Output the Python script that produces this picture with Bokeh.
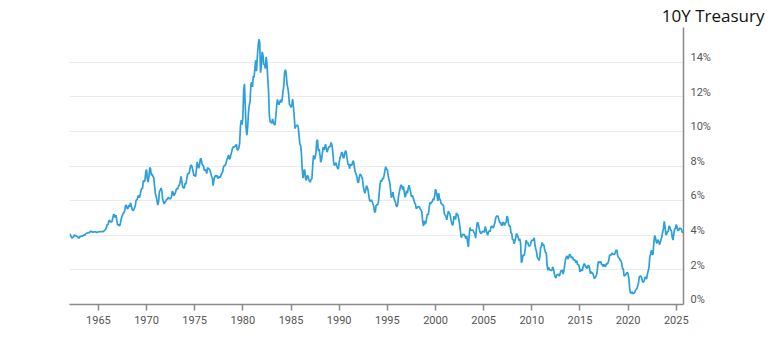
from bokeh.plotting import figure
from bokeh.models import (FixedTicker, PrintfTickFormatter, Range1d, ColumnDataSource,
                          LinearAxis, Grid, Title)
from bokeh.embed import file_html
from bokeh.resources import INLINE

# Monthly 10-year Treasury yield (%), starting January 1962
start_year = 1962
yields_1960s = [
    4.08, 4.04, 3.93, 3.84, 3.87, 3.91, 4.01, 3.98, 3.98, 3.93, 3.92, 3.86,
    3.83, 3.92, 3.93, 3.97, 3.93, 3.99, 4.02, 4.00, 4.08, 4.11, 4.12, 4.13,
    4.17, 4.15, 4.22, 4.23, 4.20, 4.17, 4.19, 4.19, 4.20, 4.19, 4.15, 4.18,
    4.19, 4.21, 4.21, 4.20, 4.21, 4.21, 4.20, 4.25, 4.29, 4.35, 4.45, 4.62,
    4.61, 4.83, 4.87, 4.75, 4.78, 4.81, 5.02, 5.22, 5.18, 5.01, 5.16, 4.84,
    4.58, 4.63, 4.54, 4.59, 4.85, 5.02, 5.16, 5.28, 5.30, 5.48, 5.75, 5.70,
    5.53, 5.56, 5.74, 5.64, 5.87, 5.72, 5.50, 5.42, 5.46, 5.58, 5.70, 6.03,
    6.04, 6.19, 6.30, 6.17, 6.32, 6.57, 6.72, 6.69, 7.16, 7.10, 7.14, 7.65,
]
yields_1970s = [
    7.79, 7.24, 7.07, 7.39, 7.91, 7.84, 7.46, 7.53, 7.39, 7.33, 6.84, 6.39,
    6.24, 6.00, 5.74, 5.93, 6.53, 6.59, 6.73, 6.58, 6.14, 5.93, 5.81, 5.93,
    5.95, 6.08, 6.07, 6.19, 6.13, 6.11, 6.11, 6.21, 6.55, 6.48, 6.28, 6.36,
    6.46, 6.64, 6.71, 6.67, 6.85, 6.90, 7.13, 7.40, 7.09, 6.79, 6.73, 6.74,
    6.99, 6.96, 7.21, 7.51, 7.58, 7.54, 7.81, 8.04, 8.04, 7.90, 7.68, 7.43,
    7.50, 7.39, 7.73, 8.23, 8.06, 7.86, 8.06, 8.40, 8.43, 8.14, 8.05, 8.00,
    7.74, 7.79, 7.73, 7.56, 7.90, 7.86, 7.83, 7.77, 7.59, 7.41, 7.29, 6.87,
    7.21, 7.39, 7.46, 7.37, 7.46, 7.28, 7.33, 7.40, 7.34, 7.52, 7.58, 7.69,
    7.96, 8.03, 8.04, 8.15, 8.35, 8.46, 8.64, 8.41, 8.42, 8.64, 8.81, 9.01,
    9.10, 9.10, 9.12, 9.18, 9.25, 8.91, 8.95, 9.03, 9.33, 10.30, 10.65, 10.39,
]
yields_1980s = [
    10.80, 12.41, 12.75, 11.47, 10.18, 9.78, 10.25, 11.10, 11.51, 11.75, 12.68, 12.84,
    12.57, 13.19, 13.12, 13.68, 14.10, 13.47, 14.28, 14.94, 15.32, 15.15, 13.39, 13.72,
    14.59, 14.43, 13.86, 13.87, 13.62, 14.30, 13.95, 13.06, 12.34, 10.91, 10.55, 10.54,
    10.46, 10.72, 10.51, 10.40, 10.38, 10.85, 11.38, 11.85, 11.65, 11.54, 11.69, 11.83,
    11.67, 11.84, 12.32, 12.63, 13.41, 13.56, 13.36, 12.72, 12.52, 12.16, 11.57, 11.50,
    11.38, 11.51, 11.86, 11.43, 10.85, 10.16, 10.31, 10.33, 10.37, 10.24, 9.78, 9.26,
    9.19, 8.70, 7.78, 7.30, 7.71, 7.80, 7.30, 7.17, 7.45, 7.43, 7.25, 7.11,
    7.08, 7.25, 7.25, 8.02, 8.61, 8.40, 8.45, 8.76, 9.42, 9.52, 8.86, 8.99,
    8.67, 8.21, 8.37, 8.72, 9.09, 8.92, 9.06, 9.26, 8.98, 8.80, 8.96, 9.11,
    9.09, 9.17, 9.36, 9.18, 8.86, 8.28, 8.02, 8.11, 8.19, 8.01, 7.87, 7.84,
]
yields_1990s = [
    8.21, 8.47, 8.59, 8.79, 8.76, 8.48, 8.47, 8.75, 8.89, 8.72, 8.39, 8.08,
    8.09, 7.85, 8.11, 8.04, 8.07, 8.28, 8.27, 7.90, 7.65, 7.53, 7.42, 7.09,
    7.03, 7.34, 7.54, 7.48, 7.39, 7.26, 6.84, 6.59, 6.42, 6.59, 6.87, 6.77,
    6.60, 6.26, 5.98, 5.97, 6.04, 5.96, 5.81, 5.68, 5.36, 5.33, 5.72, 5.77,
    5.75, 5.97, 6.48, 6.97, 7.18, 7.10, 7.30, 7.24, 7.46, 7.74, 7.96, 7.81,
    7.78, 7.47, 7.20, 7.06, 6.63, 6.17, 6.28, 6.49, 6.20, 6.04, 5.93, 5.71,
    5.65, 5.81, 6.27, 6.51, 6.74, 6.91, 6.87, 6.64, 6.83, 6.53, 6.20, 6.30,
    6.58, 6.42, 6.69, 6.89, 6.71, 6.49, 6.22, 6.30, 6.21, 6.03, 5.88, 5.81,
    5.54, 5.57, 5.65, 5.64, 5.65, 5.50, 5.46, 5.34, 4.81, 4.53, 4.83, 4.65,
    4.72, 5.00, 5.23, 5.18, 5.54, 5.90, 5.79, 5.94, 5.92, 6.11, 6.03, 6.28,
]
yields_2000s = [
    6.66, 6.52, 6.26, 5.99, 6.44, 6.10, 6.05, 5.83, 5.80, 5.74, 5.72, 5.24,
    5.16, 5.10, 4.89, 5.14, 5.39, 5.28, 5.24, 4.97, 4.73, 4.57, 4.65, 5.09,
    5.04, 4.91, 5.28, 5.21, 5.16, 4.93, 4.65, 4.26, 3.87, 3.94, 4.05, 4.03,
    4.05, 3.90, 3.81, 3.96, 3.57, 3.33, 3.98, 4.45, 4.27, 4.29, 4.30, 4.27,
    4.15, 4.08, 3.83, 4.35, 4.72, 4.73, 4.50, 4.28, 4.13, 4.10, 4.19, 4.23,
    4.22, 4.17, 4.50, 4.34, 4.14, 4.00, 4.18, 4.26, 4.20, 4.46, 4.54, 4.47,
    4.42, 4.57, 4.72, 4.99, 5.11, 5.11, 5.09, 4.88, 4.72, 4.73, 4.60, 4.56,
    4.76, 4.72, 4.56, 4.69, 4.75, 5.10, 5.00, 4.67, 4.52, 4.53, 4.15, 4.10,
    3.74, 3.74, 3.51, 3.68, 3.88, 4.10, 4.01, 3.89, 3.69, 3.81, 3.53, 2.42,
    2.52, 2.87, 2.82, 2.93, 3.29, 3.72, 3.56, 3.59, 3.40, 3.39, 3.40, 3.59,
]
yields_2010s = [
    3.73, 3.69, 3.73, 3.85, 3.42, 3.20, 3.01, 2.70, 2.65, 2.54, 2.76, 3.29,
    3.39, 3.58, 3.41, 3.46, 3.17, 3.00, 3.00, 2.30, 1.98, 2.15, 2.01, 1.98,
    1.97, 1.97, 2.17, 2.05, 1.80, 1.62, 1.53, 1.68, 1.72, 1.75, 1.65, 1.72,
    1.91, 1.98, 1.96, 1.76, 1.93, 2.30, 2.58, 2.74, 2.81, 2.62, 2.72, 2.90,
    2.86, 2.71, 2.72, 2.71, 2.56, 2.60, 2.54, 2.42, 2.53, 2.30, 2.33, 2.21,
    1.88, 1.98, 2.04, 1.94, 2.20, 2.36, 2.32, 2.17, 2.17, 2.07, 2.26, 2.24,
    2.09, 1.78, 1.89, 1.81, 1.81, 1.64, 1.50, 1.56, 1.63, 1.76, 2.14, 2.49,
    2.43, 2.42, 2.48, 2.30, 2.30, 2.19, 2.32, 2.21, 2.20, 2.36, 2.35, 2.40,
    2.58, 2.86, 2.84, 2.87, 2.98, 2.91, 2.89, 2.89, 3.00, 3.15, 3.12, 2.83,
    2.71, 2.68, 2.57, 2.53, 2.40, 2.07, 2.06, 1.63, 1.70, 1.71, 1.81, 1.86,
]
yields_2020s = [
    1.76, 1.50, 0.87, 0.66, 0.67, 0.73, 0.62, 0.65, 0.68, 0.79, 0.87, 0.93,
    1.08, 1.26, 1.61, 1.64, 1.62, 1.52, 1.32, 1.28, 1.37, 1.58, 1.56, 1.47,
    1.76, 1.93, 2.13, 2.75, 2.90, 3.14, 2.90, 2.90, 3.52, 3.98, 3.89, 3.62,
    3.53, 3.75, 3.66, 3.46, 3.57, 3.75, 3.90, 4.17, 4.38, 4.80, 4.50, 4.02,
    4.06, 4.21, 4.21, 4.54, 4.48, 4.31, 4.25, 3.87, 3.72, 4.10, 4.36, 4.39,
    4.63, 4.45, 4.28, 4.28, 4.42, 4.38, 4.39, 4.26, 4.12,
]

x_ticks = [1965, 1970, 1975, 1980, 1985, 1990, 1995, 2000, 2005, 2010, 2015, 2020, 2025]
y_ticks = [0, 2, 4, 6, 8, 10, 12, 14]
grid_ticks = [2, 4, 6, 8, 10, 12, 14, 16]
title_text = "10Y Treasury"

values = (yields_1960s + yields_1970s + yields_1980s + yields_1990s
          + yields_2000s + yields_2010s + yields_2020s)
dates = [start_year + i / 12 for i in range(len(values))]
source = ColumnDataSource(data=dict(x=dates, y=values))

p = figure(width=768, height=357, output_backend="svg", toolbar_location=None,
           x_range=Range1d(1962.0, 2025.75), y_range=Range1d(0, 16),
           y_axis_location=None,
           min_border_left=69, min_border_right=85, min_border_top=26, min_border_bottom=53)
p.outline_line_color = None
p.background_fill_color = "white"
p.border_fill_color = "white"

# horizontal grid
p.add_layout(Grid(dimension=1, ticker=FixedTicker(ticks=grid_ticks),
                  grid_line_color="#ebebeb", grid_line_width=1))

p.line("x", "y", source=source, line_color="#2d9fd9", line_width=1.7)

# x axis
xa = p.xaxis[0]
xa.ticker = FixedTicker(ticks=x_ticks)
xa.major_tick_out = 6
xa.major_tick_in = 0
xa.minor_tick_out = 0
xa.minor_tick_in = 0
xa.axis_line_color = "#8a8a8a"
xa.axis_line_width = 1.5
xa.major_tick_line_color = "#8a8a8a"
xa.major_tick_line_width = 1.5
xa.major_label_text_font = "Roboto"
xa.major_label_text_font_size = "11px"
xa.major_label_text_color = "#555555"
xa.major_label_standoff = 5
p.xgrid.visible = False

# right y axis; its labels sit slightly above their gridlines as in the reference
p.extra_y_ranges = {"labels": Range1d(-0.27, 15.73)}
ya = LinearAxis(y_range_name="labels", ticker=FixedTicker(ticks=y_ticks),
                formatter=PrintfTickFormatter(format="%d%%"))
ya.major_tick_out = 0
ya.major_tick_in = 0
ya.minor_tick_out = 0
ya.minor_tick_in = 0
ya.axis_line_color = "#8a8a8a"
ya.axis_line_width = 1.5
ya.major_label_text_font = "Roboto"
ya.major_label_text_font_size = "11px"
ya.major_label_text_color = "#555555"
ya.major_label_standoff = 7
p.add_layout(ya, "right")

title = Title(text=title_text, align="right", offset=-81, standoff=2,
              text_font="Open Sans", text_font_size="17px", text_font_style="normal",
              text_color="#111111")
p.add_layout(title, "above")

open("out.html", "w").write(file_html(p, INLINE))
